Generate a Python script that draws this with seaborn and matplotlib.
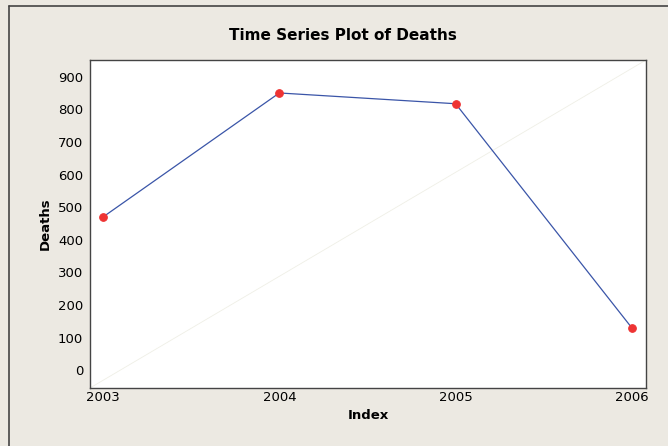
import matplotlib
matplotlib.use("Agg")
import matplotlib.pyplot as plt
import seaborn as sns
import pandas as pd
from matplotlib.lines import Line2D

# data
years = [2003, 2004, 2005, 2006]
deaths = [470, 850, 817, 130]
y_ticks = [0, 100, 200, 300, 400, 500, 600, 700, 800, 900]

df = pd.DataFrame({"Index": years, "Deaths": deaths})

sns.set_style("white")
plt.rcParams["font.family"] = ["DejaVu Sans"]
plt.rcParams["text.color"] = "black"
plt.rcParams["axes.labelcolor"] = "black"
plt.rcParams["xtick.color"] = "black"
plt.rcParams["ytick.color"] = "black"

bg = "#ECE9E2"
fig = plt.figure(figsize=(6.68, 4.46), dpi=100, facecolor=bg)
W, H = 668, 446
ax = fig.add_axes([90 / W, 1 - 388 / H, (646 - 90) / W, (388 - 60) / H])
ax.set_facecolor("white")

# faint diagonal reference line
ax.plot([0, 1], [0, 1], transform=ax.transAxes, color="#EFEFE6", lw=0.6, zorder=1)

sns.lineplot(data=df, x="Index", y="Deaths", ax=ax, color="#3A55A8", lw=0.9,
             marker="o", markersize=5.5, markerfacecolor="#EE3333",
             markeredgecolor="#EE3333", zorder=3)

ax.set_xlim(2002.926, 2006.08)
ax.set_ylim(-54, 951)
ax.set_xticks(years)
ax.set_xticklabels([str(y) for y in years])
ax.set_yticks(y_ticks)

ax.tick_params(axis="y", length=3, width=0.8, color="#333333", pad=2, labelsize=9.5)
ax.tick_params(axis="x", length=0, pad=2, labelsize=9.5)
for s in ax.spines.values():
    s.set_color("#444444")
    s.set_linewidth(1.0)

ax.set_xlabel("Index", fontweight="bold", fontsize=9.5, labelpad=4)
ax.set_ylabel("Deaths", fontweight="bold", fontsize=9.5, labelpad=4)

fig.text(343 / W, 1 - 36 / H, "Time Series Plot of Deaths", ha="center", va="center",
         fontweight="bold", fontsize=11)

# outer frame (left and top edges)
fig.add_artist(Line2D([9 / W, 9 / W], [0, 1 - 6 / H], transform=fig.transFigure,
                      color="#444444", lw=1.2))
fig.add_artist(Line2D([9 / W, 1], [1 - 6 / H, 1 - 6 / H], transform=fig.transFigure,
                      color="#444444", lw=1.2))

fig.savefig("out.png", dpi=100, facecolor=bg)
